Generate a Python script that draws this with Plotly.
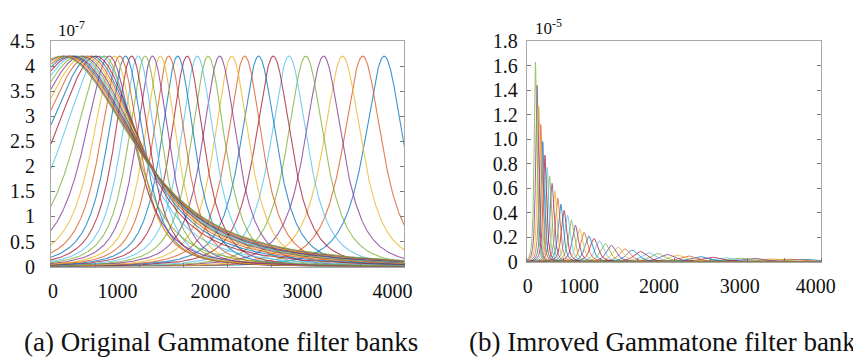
import numpy as np
import plotly.graph_objects as go

# ---------------- data ----------------
# centre frequencies of the filter bank (Hz), highest first (plot order)
CF = [3771, 3528, 3300, 3085, 2884, 2694, 2516, 2350, 2193, 2046,
      1908, 1778, 1656, 1541, 1434, 1333, 1238, 1149, 1065, 987,
      913, 843, 778, 717, 659, 605, 555, 507, 462, 420,
      381, 344, 309, 276, 246, 217, 190, 164, 140, 118]

# (a) original bank: every filter peaks at ~4.2e-7
PEAK_A = [4.2] * 40
# apparent width parameter of each response (Hz), panel (a)
BW_A = [340, 336, 332, 328, 324, 320, 316, 312, 308, 304,
        300, 297, 294, 291, 289, 287, 287, 290, 294, 298,
        305, 318, 340, 380, 440, 530, 680, 770, 840, 900,
        951, 993, 1033, 1071, 1106, 1139, 1170, 1200, 1228, 1253]

# (b) improved bank: peak values (x1e-5) fall with frequency
PEAK_B = [0.020, 0.022, 0.025, 0.028, 0.031, 0.034, 0.038, 0.043, 0.048, 0.054,
          0.060, 0.068, 0.075, 0.085, 0.095, 0.105, 0.120, 0.135, 0.150, 0.170,
          0.190, 0.210, 0.240, 0.270, 0.300, 0.340, 0.380, 0.420, 0.470, 0.520,
          0.580, 0.640, 0.700, 0.770, 0.870, 0.980, 1.120, 1.270, 1.440, 1.630]
BW_B = [300, 282, 265, 249, 234, 220, 207, 194, 182, 171,
        161, 151, 142, 134, 126, 118, 111, 104, 98, 92,
        86, 81, 76, 71, 67, 63, 59, 56, 52, 49,
        46, 43, 41, 38, 36, 34, 32, 30, 28, 26]
SHAPE_ORDER = 1.5

YTICK_A = [0, 0.5, 1, 1.5, 2, 2.5, 3, 3.5, 4, 4.5]
YTXT_A = ["0", "0.5", "1", "1.5", "2", "2.5", "3", "3.5", "4", "4.5"]
YTICK_B = [0, 0.2, 0.4, 0.6, 0.8, 1.0, 1.2, 1.4, 1.6, 1.8]
YTXT_B = ["0", "0.2", "0.4", "0.6", "0.8", "1.0", "1.2", "1.4", "1.6", "1.8"]
XTXT = ["0", "1000", "2000", "3000", "4000"]
XLAB_POS_A = [22, 753, 1806, 2848, 3867]
XLAB_POS_B = [13, 710, 1794, 2892, 3922]
XMINOR = [0, 500, 1000, 1500, 2000, 2500, 3000, 3500, 4000]

CAPTION_A = "(a) Original Gammatone filter banks"
CAPTION_B = "(b) Imroved Gammatone filter banks"

COLORS = ['#0072BD', '#D95319', '#EDB120', '#7E2F8E', '#77AC30', '#4DBEEE', '#A2142F']

# ---------------- figure ----------------
f = np.linspace(0, 4000, 2401)


def response(fc, amp, bw):
    return amp * (1.0 + ((f - fc) / bw) ** 2) ** -SHAPE_ORDER


fig = go.Figure()
for k, (fc, a, b) in enumerate(zip(CF, PEAK_A, BW_A)):
    fig.add_trace(go.Scatter(x=f, y=response(fc, a, b), mode="lines",
                             line=dict(color=COLORS[k % 7], width=1.1),
                             opacity=0.75, xaxis="x", yaxis="y",
                             showlegend=False, hoverinfo="skip"))
for k, (fc, a, b) in enumerate(zip(CF, PEAK_B, BW_B)):
    fig.add_trace(go.Scatter(x=f, y=response(fc, a, b), mode="lines",
                             line=dict(color=COLORS[k % 7], width=1.0),
                             opacity=0.75, xaxis="x2", yaxis="y2",
                             showlegend=False, hoverinfo="skip"))

FONT = "Liberation Serif"
frame = "#a8a8a8"
W, H = 853, 364


def xaxis(domain, anchor, pos, standoff):
    return dict(domain=domain, anchor=anchor, range=[0, 4000],
                showline=True, linecolor=frame, linewidth=1, mirror=True,
                showgrid=False, zeroline=False,
                tickmode="array", tickvals=pos, ticktext=XTXT, ticks="",
                ticklabelstandoff=standoff,
                minor=dict(tickmode="array", tickvals=XMINOR, ticks="inside",
                           ticklen=4, tickcolor="#777", showgrid=False),
                tickfont=dict(family=FONT, size=20, color="#111"))


def yaxis(domain, anchor, rng, vals, txt, standoff):
    return dict(domain=domain, anchor=anchor, range=rng,
                showline=True, linecolor=frame, linewidth=1, mirror="ticks",
                showgrid=False, zeroline=False,
                tickmode="array", tickvals=vals, ticktext=txt,
                ticks="inside", ticklen=4, tickcolor="#777",
                ticklabelstandoff=standoff,
                tickfont=dict(family=FONT, size=20, color="#111"))


fig.update_layout(
    width=W, height=H, margin=dict(l=0, r=0, t=0, b=0),
    paper_bgcolor="white", plot_bgcolor="white",
    xaxis=xaxis([48 / W, 409 / W], "y", XLAB_POS_A, 6),
    yaxis=yaxis([(H - 272) / H, (H - 32) / H], "x", [0, 4.5], YTICK_A, YTXT_A, 11),
    xaxis2=xaxis([534 / W, 835 / W], "y2", XLAB_POS_B, 6),
    yaxis2=yaxis([(H - 267) / H, (H - 32) / H], "x2", [0, 1.8], YTICK_B, YTXT_B, 4),
    annotations=[
        dict(text="10<sup>-7</sup>", xref="paper", yref="paper",
             x=53 / W, y=1 - 19 / H, xanchor="left", yanchor="middle",
             showarrow=False, font=dict(family=FONT, size=17, color="#111")),
        dict(text="10<sup>-5</sup>", xref="paper", yref="paper",
             x=540 / W, y=1 - 17 / H, xanchor="left", yanchor="middle",
             showarrow=False, font=dict(family=FONT, size=17, color="#111")),
        dict(text=CAPTION_A, xref="paper", yref="paper",
             x=18 / W, y=1 - 352 / H, xanchor="left", yanchor="middle",
             showarrow=False, font=dict(family=FONT, size=27, color="#111")),
        dict(text=CAPTION_B, xref="paper", yref="paper",
             x=473 / W, y=1 - 352 / H, xanchor="left", yanchor="middle",
             showarrow=False, font=dict(family=FONT, size=27, color="#111")),
    ],
)

fig.write_html("out.html", config={"displayModeBar": False})

# remove the browser's default page margin so the figure sits at (0, 0)
with open("out.html", encoding="utf-8") as fh:
    page = fh.read()
page = page.replace("<head>", "<head><style>html,body{margin:0;padding:0;overflow:hidden;}</style>", 1)
with open("out.html", "w", encoding="utf-8") as fh:
    fh.write(page)
